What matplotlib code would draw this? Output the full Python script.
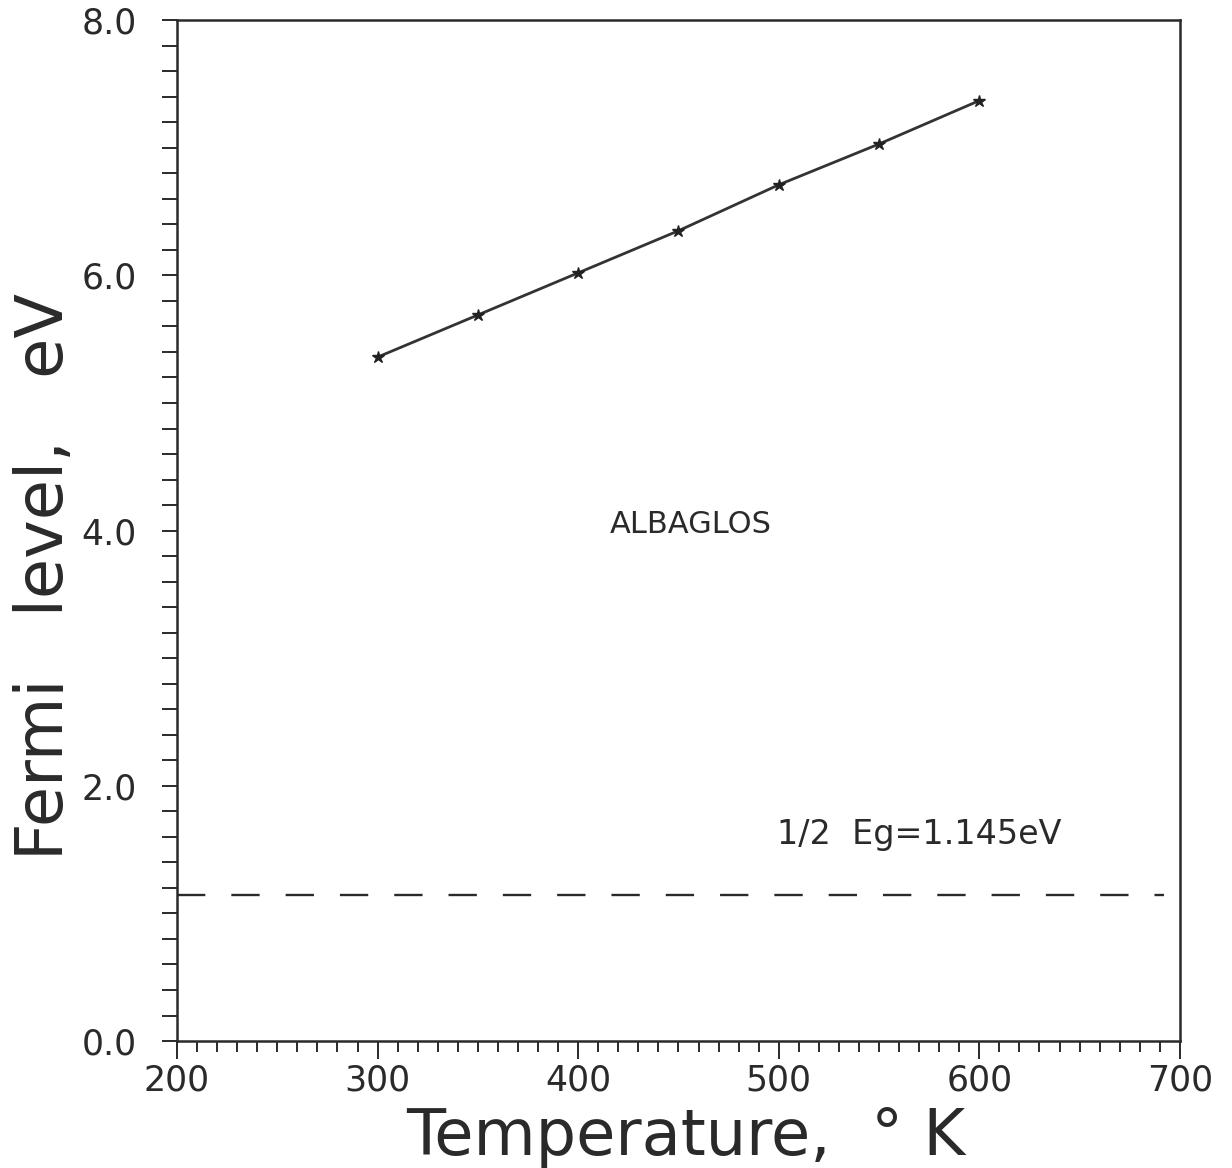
import matplotlib
matplotlib.use("Agg")
import matplotlib.pyplot as plt
from matplotlib.ticker import MultipleLocator, FormatStrFormatter

# Data
temperature_K = [300, 350, 400, 450, 500, 550, 600]
fermi_level_eV = [5.36, 5.69, 6.02, 6.35, 6.71, 7.03, 7.37]
half_gap_eV = 1.145
half_gap_T = [200, 692]
series_label = "ALBAGLOS"
gap_label = "1/2  Eg=1.145eV"
x_label = "Temperature,  ° K"
y_label = "Fermi   level,   eV"

plt.rcParams['font.family'] = ['DejaVu Sans']
ink = '#2a2a2a'

fig = plt.figure(figsize=(12.32, 11.68), dpi=100)
ax = fig.add_axes([0.1437, 0.1087, 0.814, 0.874])

ax.plot(temperature_K, fermi_level_eV, color='#333333', lw=2.0,
        marker='*', markersize=9, markerfacecolor='#222222',
        markeredgecolor='#222222')
ax.plot(half_gap_T, [half_gap_eV, half_gap_eV], color=ink, lw=1.7,
        dashes=(12, 11))

ax.text(456, 4.05, series_label, fontsize=22, color=ink,
        ha='center', va='center')
ax.text(499, 1.62, gap_label, fontsize=24, color=ink,
        ha='left', va='center')

ax.set_xlim(200, 700)
ax.set_ylim(0, 8)
ax.xaxis.set_major_locator(MultipleLocator(100))
ax.xaxis.set_minor_locator(MultipleLocator(10))
ax.yaxis.set_major_locator(MultipleLocator(2))
ax.yaxis.set_minor_locator(MultipleLocator(0.2))
ax.yaxis.set_major_formatter(FormatStrFormatter('%.1f'))

for s in ax.spines.values():
    s.set_linewidth(1.8)
    s.set_color(ink)

ax.tick_params(axis='x', which='major', direction='out', length=13,
               width=1.4, labelsize=25, pad=3, colors=ink)
ax.tick_params(axis='x', which='minor', direction='out', length=8,
               width=1.4, colors=ink)
ax.tick_params(axis='y', which='both', direction='out', length=11,
               width=1.4, colors=ink)
ax.tick_params(axis='y', which='major', labelsize=25, pad=18)

ax.set_xlabel(x_label, fontsize=46, color=ink)
ax.set_ylabel(y_label, fontsize=47, color=ink)
ax.xaxis.set_label_coords(0.507, -0.064)
ax.yaxis.set_label_coords(-0.10, 0.455)

fig.savefig('out.png', dpi=100, facecolor='white')
